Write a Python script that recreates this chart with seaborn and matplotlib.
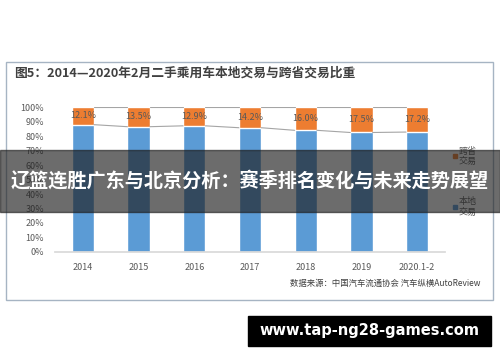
import matplotlib
matplotlib.use("Agg")
import matplotlib.pyplot as plt
import seaborn as sns
import pandas as pd
from matplotlib.patches import Rectangle

# =========================
# DATA
# =========================
years = ["2014", "2015", "2016", "2017", "2018", "2019", "2020.1-2"]
cross_province = [12.1, 13.5, 12.9, 14.2, 16.0, 17.5, 17.2]   # 跨省交易 %
local = [100 - v for v in cross_province]                        # 本地交易 %
y_ticks = list(range(0, 101, 10))

title = "图5：2014—2020年2月二手乘用车本地交易与跨省交易比重"
banner = "辽篮连胜广东与北京分析：赛季排名变化与未来走势展望"
source = "数据来源：中国汽车流通协会 汽车纵横AutoReview"
site = "www.tap-ng28-games.com"

ORANGE = "#ED7D31"
BLUE = "#5B9BD5"
GRAY = "#595959"

sns.set_theme(style="white")
plt.rcParams["font.family"] = ["Noto Sans CJK SC", "DejaVu Sans"]

df = pd.DataFrame({"year": years, "cross": cross_province, "local": local})
df["total"] = df["cross"] + df["local"]

fig = plt.figure(figsize=(5, 3.62), dpi=100)

# chart frame
fig.patches.append(Rectangle((0.012, 0.172), 0.973, 0.658, transform=fig.transFigure,
                             fill=False, edgecolor="#A6B4C3", linewidth=1.0))
fig.text(0.028, 0.797, title, fontsize=9.2, color="#404040", fontweight="bold",
         va="center", ha="left")

ax = fig.add_axes([0.11, 0.304, 0.78, 0.4])
sns.barplot(data=df, x="year", y="total", color=ORANGE, width=0.4, ax=ax,
            saturation=1)
sns.barplot(data=df, x="year", y="local", color=BLUE, width=0.4, ax=ax,
            saturation=1)

# series lines between bars
half = 0.2
for i in range(len(years) - 1):
    ax.plot([i + half, i + 1 - half], [df["local"][i], df["local"][i + 1]],
            color="#A5A5A5", lw=0.8)
    ax.plot([i + half, i + 1 - half], [df["total"][i], df["total"][i + 1]],
            color="#A5A5A5", lw=0.8)

for i, v in enumerate(cross_province):
    ax.text(i, df["local"][i] + v / 2, f"{v:.1f}%", ha="center", va="center",
            fontsize=6.5, color=GRAY)

ax.set_ylim(0, 100)
ax.set_xlim(-0.5, len(years) - 0.5)
ax.set_yticks(y_ticks)
ax.set_yticklabels([f"{t}%" for t in y_ticks], fontsize=6.5, color=GRAY)
ax.set_xticklabels(years, fontsize=6.5, color=GRAY)
ax.tick_params(axis="both", length=0, pad=8)
ax.set_xlabel("")
ax.set_ylabel("")
for s in ["top", "right", "left"]:
    ax.spines[s].set_visible(False)
ax.spines["bottom"].set_color("#D9D9D9")

# legend
fig.patches.append(Rectangle((0.906, 0.563), 0.008, 0.011, transform=fig.transFigure,
                             color=ORANGE))
fig.text(0.918, 0.568, "跨省\n交易", fontsize=6.5, color=GRAY, va="center", ha="left",
         linespacing=1.2)
fig.patches.append(Rectangle((0.906, 0.423), 0.008, 0.011, transform=fig.transFigure,
                             color=BLUE))
fig.text(0.918, 0.428, "本地\n交易", fontsize=6.5, color=GRAY, va="center", ha="left",
         linespacing=1.2)

fig.text(0.96, 0.218, source, fontsize=6, color="#404040", ha="right", va="center")

# overlay banner
fig.patches.append(Rectangle((0, 0.414), 1, 0.172, transform=fig.transFigure,
                             color="#1e1e1e", alpha=0.65, zorder=10))
fig.text(0.5, 0.5, banner, fontsize=13.8, color="white", fontweight="bold",
         ha="center", va="center", zorder=11)

# site box
fig.patches.append(Rectangle((0.496, 0.044), 0.486, 0.083, transform=fig.transFigure,
                             color="black", zorder=10))
fig.text(0.739, 0.086, site, fontsize=10.5, color="white", fontweight="bold",
         ha="center", va="center", zorder=11, family="DejaVu Sans")

fig.savefig("out.png", dpi=100)
